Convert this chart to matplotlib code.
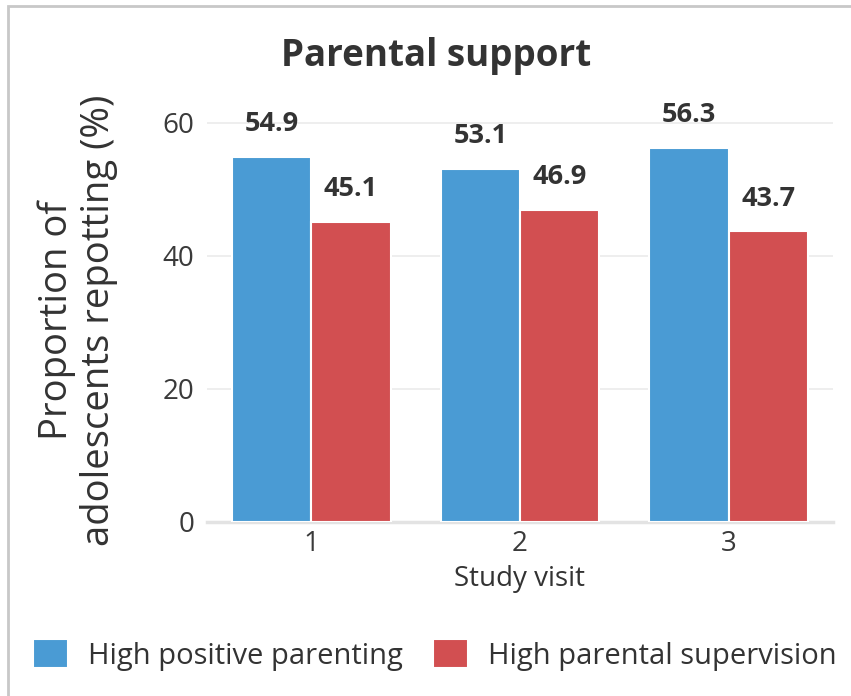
import matplotlib

matplotlib.use("Agg")
import matplotlib.pyplot as plt
import numpy as np
from matplotlib.patches import Rectangle

BLUE = "#4A9BD4"
RED = "#D24F51"
TEXT = "#333333"
GRID = "#EBEBEB"

plt.rcParams.update({
    "font.family": ["Open Sans", "DejaVu Sans"],
    "text.color": TEXT, "axes.labelcolor": TEXT,
    "xtick.color": "#3A3A3A", "ytick.color": "#3A3A3A",
})

visits = ["1", "2", "3"]
positive_parenting = [54.9, 53.1, 56.3]
parental_supervision = [45.1, 46.9, 43.7]
series_names = ["High positive parenting", "High parental supervision"]

fig = plt.figure(figsize=(8.51, 6.96), dpi=100)
ax = fig.add_axes([0.2432, 0.25, 0.7356, 0.602])

# thin frame around the whole panel
fig.patches.append(Rectangle((8 / 851, -0.05), 1.2, 1 - 6 / 696 + 0.05,
                             transform=fig.transFigure, fill=False,
                             edgecolor="#C8C8C8", linewidth=2))

x = np.arange(1, len(visits) + 1)
w = 0.38
b1 = ax.bar(x - w / 2, positive_parenting, w, color=BLUE, edgecolor="white",
            linewidth=1.5, label=series_names[0], zorder=3)
b2 = ax.bar(x + w / 2, parental_supervision, w, color=RED, edgecolor="white",
            linewidth=1.5, label=series_names[1], zorder=3)

for bars, vals in ((b1, positive_parenting), (b2, parental_supervision)):
    for bar, v in zip(bars, vals):
        ax.annotate(f"{v:.1f}", (bar.get_x() + bar.get_width() / 2, v),
                    xytext=(0, 23.5), textcoords="offset points", ha="center",
                    va="center", fontsize=19.5, weight="bold", color=TEXT)

ax.set_xlim(0.5, 3.5)
ax.set_ylim(0, 63)
ax.set_xticks(x, visits)
ax.set_yticks([0, 20, 40, 60])
ax.tick_params(length=0, labelsize=20, pad=6)
ax.tick_params(axis="y", pad=9)
ax.grid(axis="y", color=GRID, linewidth=1.2, zorder=0)
for s in ("top", "right", "left"):
    ax.spines[s].set_visible(False)
ax.spines["bottom"].set_color("#E3E3E3")
ax.spines["bottom"].set_linewidth(2.5)

ax.set_xlabel("Study visit", fontsize=20, labelpad=5)
ax.set_ylabel("Proportion of\nadolescents repotting (%)", fontsize=27.5,
              linespacing=1.15)
ax.yaxis.set_label_coords(-0.142, 0.481)

fig.text(0.512, 0.92, "Parental support", ha="center", va="center",
         fontsize=26.5, weight="bold")

fig.legend(handles=[b1, b2], loc="center", bbox_to_anchor=(0.511, 0.059),
           ncol=2, frameon=False, fontsize=21, handlelength=1.2,
           handleheight=1.17, handletextpad=0.69, columnspacing=1.03,
           borderaxespad=0, borderpad=0)

fig.savefig("out.png", dpi=100)
